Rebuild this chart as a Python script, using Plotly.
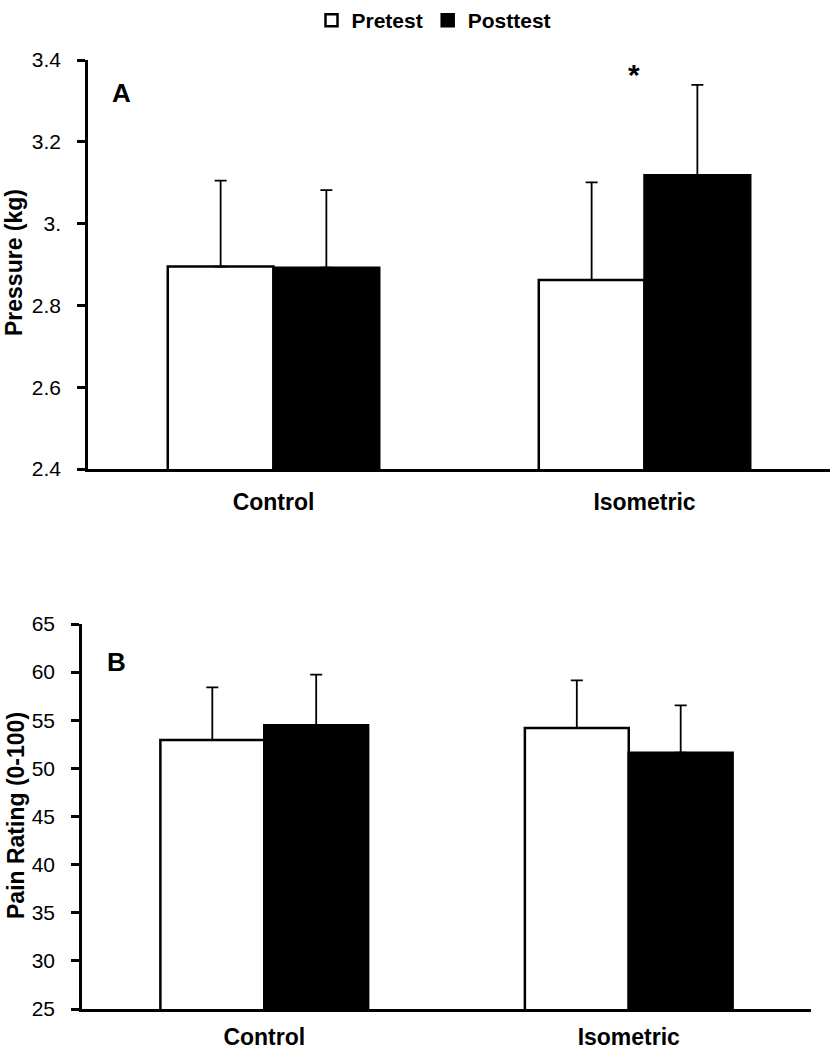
import plotly.graph_objects as go

groups = ["Control", "Isometric"]
series = ["Pretest", "Posttest"]

pressure_pre = [2.895, 2.862]
pressure_post = [2.892, 3.118]
pressure_pre_err = [0.210, 0.239]
pressure_post_err = [0.190, 0.221]

pain_pre = [52.95, 54.19]
pain_post = [54.47, 51.63]
pain_pre_err = [5.47, 4.96]
pain_post_err = [5.26, 4.92]

pressure_ticks = [2.4, 2.6, 2.8, 3.0, 3.2, 3.4]
pressure_ticktext = ["2.4", "2.6", "2.8", "3.", "3.2", "3.4"]
pain_ticks = [25, 30, 35, 40, 45, 50, 55, 60, 65]

W, H = 831, 1050
BOLD = "Liberation Sans, Arial, sans-serif"
NARROW = "Liberation Sans Narrow, Arial Narrow, Liberation Sans, Arial, sans-serif"

fig = go.Figure()

fills = {"Pretest": "white", "Posttest": "black"}


def add_panel(pre, post, pre_err, post_err, xa, ya, show):
    for name, vals, errs in [("Pretest", pre, pre_err), ("Posttest", post, post_err)]:
        fig.add_trace(go.Bar(
            x=groups, y=vals, name=name, showlegend=show,
            xaxis=xa, yaxis=ya,
            marker=dict(color=fills[name], line=dict(color="black", width=2.5)),
            error_y=dict(type="data", symmetric=False, array=errs,
                         arrayminus=[0] * len(errs), color="black",
                         thickness=1.8, width=6),
        ))


add_panel(pressure_pre, pressure_post, pressure_pre_err, pressure_post_err, "x", "y", True)
add_panel(pain_pre, pain_post, pain_pre_err, pain_post_err, "x2", "y2", False)

axis_common = dict(showline=True, linecolor="black", linewidth=2.5, showgrid=False,
                   zeroline=False, mirror=False, automargin=False)

fig.update_layout(
    width=W, height=H,
    margin=dict(l=0, r=0, t=0, b=0, autoexpand=False),
    paper_bgcolor="white", plot_bgcolor="white",
    barmode="group", bargap=0.43, bargroupgap=0,
    font=dict(family=BOLD, color="black"),
    legend=dict(orientation="h", x=434 / W, xanchor="center", y=1.0, yanchor="top",
                font=dict(family=BOLD, size=21, color="black", weight="bold"),
                itemwidth=30, tracegroupgap=0, bgcolor="rgba(0,0,0,0)"),
    xaxis=dict(domain=[88 / W, 830 / W], anchor="y", ticks="",
               tickfont=dict(family=BOLD, size=23, weight="bold"),
               ticklabelstandoff=11, **axis_common),
    yaxis=dict(domain=[(H - 469) / H, (H - 60) / H], anchor="x", range=[2.4, 3.4],
               tickvals=pressure_ticks, ticktext=pressure_ticktext,
               ticks="outside", ticklen=8, tickwidth=2.5, tickcolor="black",
               tickfont=dict(family=NARROW, size=21), ticklabelstandoff=12,
               **axis_common),
    xaxis2=dict(domain=[82 / W, 811 / W], anchor="y2", ticks="",
                tickfont=dict(family=BOLD, size=23, weight="bold"),
                ticklabelstandoff=6, **axis_common),
    yaxis2=dict(domain=[(H - 1009) / H, (H - 624) / H], anchor="x2", range=[25, 65],
                tickvals=pain_ticks,
                ticks="outside", ticklen=8, tickwidth=2.5, tickcolor="black",
                tickfont=dict(family=NARROW, size=21), ticklabelstandoff=12,
                **axis_common),
)

annos = [
    dict(text="Pressure (kg)", x=14 / W, y=(H - 263) / H, textangle=-90,
         font=dict(size=23, weight="bold")),
    dict(text="Pain Rating (0-100)", x=16 / W, y=(H - 816) / H, textangle=-90,
         font=dict(size=23, weight="bold")),
    dict(text="A", x=121 / W, y=(H - 93) / H, font=dict(size=26, weight="bold")),
    dict(text="B", x=116 / W, y=(H - 662) / H, font=dict(size=26, weight="bold")),
    dict(text="*", x=634 / W, y=(H - 74) / H, font=dict(size=30, weight="bold")),
]
for a in annos:
    fig.add_annotation(xref="paper", yref="paper", showarrow=False,
                       xanchor="center", yanchor="middle", **a)

fig.write_html("out.html", config={"displayModeBar": False},
               post_script="document.body.style.margin='0';document.body.style.padding='0';")
